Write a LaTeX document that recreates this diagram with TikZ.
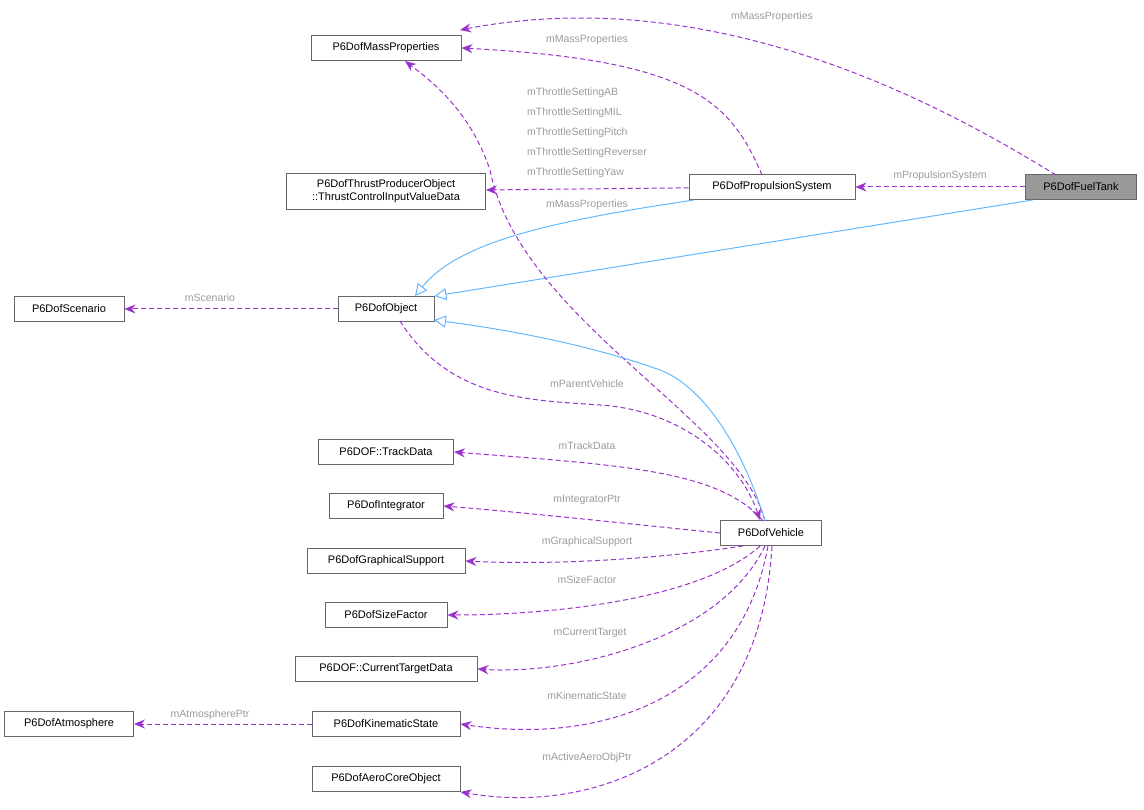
\documentclass[tikz,border=0pt]{standalone}
\usepackage{fontspec}
\setmainfont{Liberation Sans}
\usetikzlibrary{arrows.meta}
\definecolor{pur}{HTML}{9A32CD}
\definecolor{blu}{HTML}{63B8FF}
\definecolor{lab}{HTML}{9A9A9A}
\begin{document}
\begin{tikzpicture}[x=1pt,y=-1pt,
  box/.style={draw=black!60,line width=0.9pt,fill=white,minimum height=25pt,inner sep=2pt,font=\fontsize{11}{13}\selectfont,align=center},
  dep/.style={draw=pur,line width=1pt,dash pattern=on 5pt off 3pt,-{Stealth[length=11pt,width=9pt]}},
  inh/.style={draw=blu,line width=1pt,-{Triangle[open,length=12pt,width=12pt,fill=white]}},
  lb/.style={text=lab,font=\fontsize{10.5}{12}\selectfont,inner sep=1pt}]
\useasboundingbox (0,0) rectangle (1144,810);
\node[box,minimum width=150pt] (mp) at (386,48) {P6DofMassProperties};
\node[box,minimum width=199pt,minimum height=36pt,inner sep=1pt] (tc) at (386,191) {P6DofThrustProducerObject\\::ThrustControlInputValueData};
\node[box,minimum width=166pt] (ps) at (772,187) {P6DofPropulsionSystem};
\node[box,minimum width=111pt,fill=black!40] (ft) at (1081,187) {P6DofFuelTank};
\node[box,minimum width=110pt] (sc) at (69,309) {P6DofScenario};
\node[box,minimum width=96pt] (ob) at (386,309) {P6DofObject};
\node[box,minimum width=135pt] (td) at (386,452) {P6DOF::TrackData};
\node[box,minimum width=114pt] (in) at (386,506) {P6DofIntegrator};
\node[box,minimum width=158pt] (gs) at (386,561) {P6DofGraphicalSupport};
\node[box,minimum width=122pt] (sf) at (386,615) {P6DofSizeFactor};
\node[box,minimum width=182pt] (ct) at (386,669) {P6DOF::CurrentTargetData};
\node[box,minimum width=148pt] (ks) at (386,724) {P6DofKinematicState};
\node[box,minimum width=129pt] (at) at (69,724) {P6DofAtmosphere};
\node[box,minimum width=148pt] (ac) at (386,779) {P6DofAeroCoreObject};
\node[box,minimum width=101pt] (ve) at (771,533) {P6DofVehicle};

\draw[dep] (1056,175) .. controls (950,110) and (720,-20) .. (460,30);
\node[lb] at (772,17) {mMassProperties};
\draw[dep] (762,175) .. controls (730,100) and (690,60) .. (mp.east);
\node[lb] at (587,40) {mMassProperties};
\draw[dep] (ft) -- (ps);
\node[lb] at (940,176) {mPropulsionSystem};
\draw[dep] (ps) -- (tc);
\node[lb,align=left] (tl) at (587,133) {mThrottleSettingAB\\[8pt]mThrottleSettingMIL\\[8pt]mThrottleSettingPitch\\[8pt]mThrottleSettingReverser\\[8pt]mThrottleSettingYaw};
\draw[inh] (ft.195) -- (ob.north east);
\draw[inh] (694,200) .. controls (560,220) and (460,240) .. (415,296);
\draw[dep] (ob) -- (sc);
\node[lb] at (210,298) {mScenario};
\draw[dep] (765,521) .. controls (740,420) and (520,320) .. (490,170) .. controls (470,110) and (430,80) .. (405,61);
\node[lb] at (587,205) {mMassProperties};
\draw[inh] (765,521) .. controls (740,440) and (700,385) .. (660,370) .. controls (590,345) and (510,330) .. (434,320);
\draw[dep] (400,321) .. controls (450,400) and (530,400) .. (600,405) .. controls (680,410) and (740,460) .. (760,520);
\node[lb] at (587,384) {mParentVehicle};
\draw[dep] (763,521) .. controls (720,470) and (620,465) .. (td.east);
\node[lb] at (587,446) {mTrackData};
\draw[dep] (ve.west) .. controls (640,525) and (520,512) .. (in.east);
\node[lb] at (587,500) {mIntegratorPtr};
\draw[dep] (ve.205) .. controls (650,560) and (550,565) .. (gs.east);
\node[lb] at (587,542) {mGraphicalSupport};
\draw[dep] (760,546) .. controls (700,600) and (550,615) .. (sf.east);
\node[lb] at (587,580) {mSizeFactor};
\draw[dep] (765,546) .. controls (720,640) and (570,675) .. (ct.east);
\node[lb] at (590,633) {mCurrentTarget};
\draw[dep] (768,546) .. controls (740,700) and (600,745) .. (ks.east);
\node[lb] at (587,696) {mKinematicState};
\draw[dep] (772,546) .. controls (760,760) and (590,815) .. (ac.south east);
\node[lb] at (587,758) {mActiveAeroObjPtr};
\draw[dep] (ks) -- (at);
\node[lb] at (210,715) {mAtmospherePtr};
\end{tikzpicture}
\end{document}
